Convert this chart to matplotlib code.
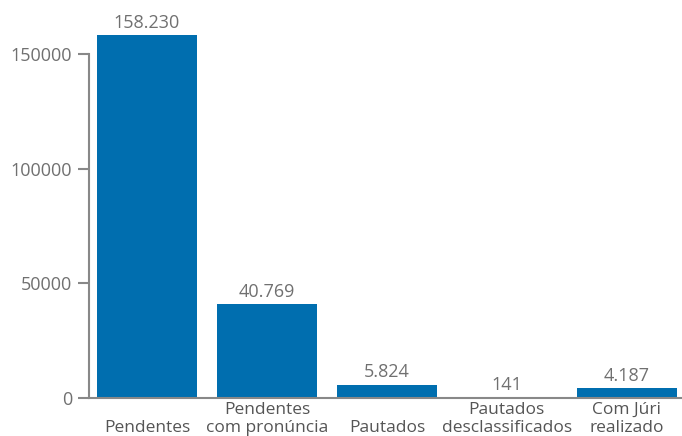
import matplotlib.pyplot as plt

categories = ["\nPendentes", "Pendentes\ncom pronúncia", "\nPautados",
              "Pautados\ndesclassificados", "Com Júri\nrealizado"]
values = [158230, 40769, 5824, 141, 4187]
value_labels = ["158.230", "40.769", "5.824", "141", "4.187"]
y_ticks = [0, 50000, 100000, 150000]

plt.rcParams['font.family'] = ['Open Sans', 'DejaVu Sans']

fig = plt.figure(figsize=(6.82, 4.36), dpi=100)
ax = fig.add_axes([89 / 682, 38 / 436, 593 / 682, 398 / 436])

x = range(len(values))
ax.bar(x, values, width=0.835, color='#006eaf')

for i, v in enumerate(values):
    ax.text(i, v + 1500, value_labels[i], ha='center', va='bottom',
            fontsize=13, color='#707070')

ax.set_xlim(-0.483, 4.46)
ax.set_ylim(0, 173500)
ax.set_yticks(y_ticks)
ax.set_yticklabels([str(t) for t in y_ticks])
ax.set_xticks(list(x))
ax.set_xticklabels(categories, linespacing=1.15)

for s in ['top', 'right']:
    ax.spines[s].set_visible(False)
for s in ['left', 'bottom']:
    ax.spines[s].set_color('#888888')
    ax.spines[s].set_linewidth(1.5)
ax.spines['left'].set_bounds(0, 150000)

ax.tick_params(axis='y', length=8, width=1.5, color='#888888',
               labelsize=13, labelcolor='#707070', pad=4)
ax.tick_params(axis='x', length=0, labelsize=12.5, labelcolor='#555555', pad=3)

fig.savefig("out.png", dpi=100)
